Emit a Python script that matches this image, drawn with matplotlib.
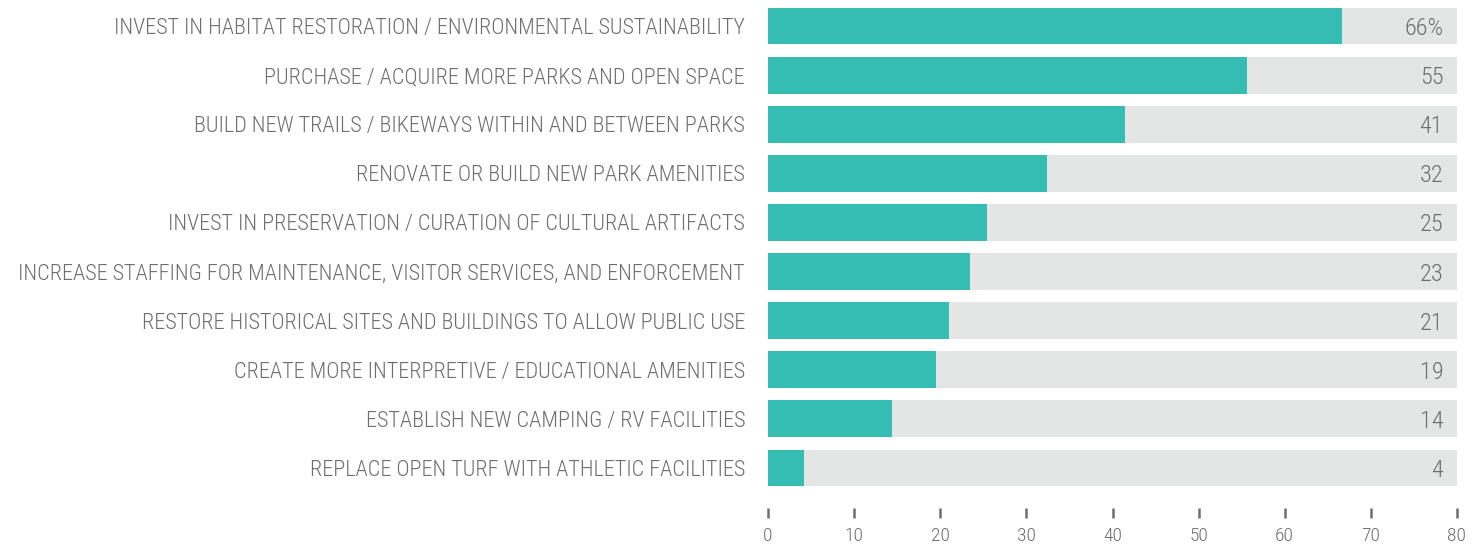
import matplotlib
matplotlib.use("Agg")
import matplotlib.pyplot as plt
from matplotlib import font_manager

names = {f.name for f in font_manager.fontManager.ttflist}
font = "Roboto"
for cand in ["Roboto Condensed", "Barlow Semi Condensed", "Archivo Narrow", "Asap Condensed"]:
    if cand in names:
        font = cand
        break
plt.rcParams["font.family"] = [font, "DejaVu Sans"]
plt.rcParams["font.weight"] = 300

categories = [
    "INVEST IN HABITAT RESTORATION / ENVIRONMENTAL SUSTAINABILITY",
    "PURCHASE / ACQUIRE MORE PARKS AND OPEN SPACE",
    "BUILD NEW TRAILS / BIKEWAYS WITHIN AND BETWEEN PARKS",
    "RENOVATE OR BUILD NEW PARK AMENITIES",
    "INVEST IN PRESERVATION / CURATION OF CULTURAL ARTIFACTS",
    "INCREASE STAFFING FOR MAINTENANCE, VISITOR SERVICES, AND ENFORCEMENT",
    "RESTORE HISTORICAL SITES AND BUILDINGS TO ALLOW PUBLIC USE",
    "CREATE MORE INTERPRETIVE / EDUCATIONAL AMENITIES",
    "ESTABLISH NEW CAMPING / RV FACILITIES",
    "REPLACE OPEN TURF WITH ATHLETIC FACILITIES",
]
values = [66.7, 55.6, 41.5, 32.4, 25.4, 23.5, 21.0, 19.5, 14.4, 4.2]
value_labels = ["66%", "55", "41", "32", "25", "23", "21", "19", "14", "4"]
xmax = 80

teal = "#36bdb3"
track = "#e4e6e5"
text_c = "#6d6e71"

fig = plt.figure(figsize=(14.83, 5.45), dpi=100)
ax = fig.add_axes([768 / 1483, 1 - 492.5 / 545, 689 / 1483, 491 / 545])

y = list(range(len(categories)))
ax.barh(y, [xmax] * len(y), height=0.75, color=track)
ax.barh(y, values, height=0.75, color=teal)

for yi, lab in zip(y, value_labels):
    ax.text(xmax - 1.6, yi, lab, ha="right", va="center_baseline", fontsize=17.5, color=text_c)

ax.set_xlim(0, xmax)
ax.set_ylim(len(y) - 0.5, -0.5)
ax.set_yticks(y)
ax.set_yticklabels(categories, fontsize=16, color=text_c)
ax.tick_params(axis="y", length=0, pad=16.5)
ax.set_xticks(range(0, 81, 10))
ax.tick_params(axis="x", length=7, width=1.8, color="#6d6e71", pad=7,
               labelsize=14, labelcolor=text_c)
for s in ax.spines.values():
    s.set_visible(False)
ax.spines["bottom"].set_position(("outward", 11))

fig.savefig("out.png", dpi=100)
